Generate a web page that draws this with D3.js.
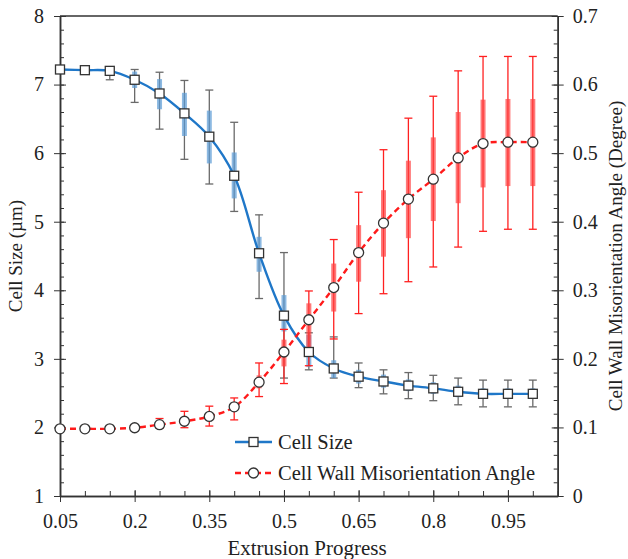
<!DOCTYPE html>
<html lang="en">
<head>
<meta charset="utf-8">
<title>Cell Size and Misorientation vs Extrusion Progress</title>
<script src="https://d3js.org/d3.v7.js"></script>
<style>
  body { margin: 0; background: #fff; }
  svg text { font-family: "Liberation Serif", "Times New Roman", serif !important; fill: #222; }
  .axis path, .axis line { stroke: #333; }
</style>
</head>
<body>
<script>
// data
const progress = [0.05,0.1,0.15,0.2,0.25,0.3,0.35,0.4,0.45,0.5,0.55,0.6,0.65,0.7,0.75,0.8,0.85,0.9,0.95,1.0];

const cellSize   = [7.22,7.21,7.20,7.07,6.87,6.58,6.24,5.67,4.54,3.63,3.10,2.86,2.74,2.67,2.61,2.57,2.52,2.49,2.49,2.49];
const cellSizeLo = [null,null,7.07,6.74,6.35,5.91,5.55,5.15,3.88,2.72,2.84,2.72,2.58,2.49,2.42,2.39,2.33,2.30,2.30,2.30];
const cellSizeHi = [null,null,7.26,7.22,7.18,7.06,6.92,6.45,5.10,4.55,3.38,3.32,2.94,2.84,2.80,2.76,2.72,2.69,2.69,2.69];
const cellBoxLo  = [null,null,null,6.95,6.64,6.25,5.85,5.34,4.27,3.40,2.88,2.72,2.64,2.58,2.53,2.49,2.44,2.42,2.42,2.42];
const cellBoxHi  = [null,null,null,7.19,7.08,6.88,6.62,6.01,4.78,3.93,3.35,2.98,2.84,2.77,2.70,2.66,2.61,2.57,2.57,2.57];

const angle    = [0.098,0.098,0.098,0.0995,0.104,0.109,0.116,0.130,0.166,0.210,0.257,0.304,0.355,0.398,0.433,0.462,0.493,0.514,0.516,0.516];
const angleLo  = [null,null,null,0.096,0.099,0.0996,0.102,0.111,0.145,0.164,0.190,0.229,0.266,0.295,0.3125,0.334,0.363,0.386,0.389,0.389];
const angleHi  = [null,null,null,0.104,0.113,0.1235,0.131,0.143,0.194,0.243,0.299,0.374,0.443,0.505,0.551,0.583,0.620,0.641,0.641,0.641];
const angleBoxLo = [null,null,null,null,null,null,null,0.124,0.157,0.189,0.213,0.269,0.3125,0.349,0.376,0.401,0.427,0.450,0.452,0.452];
const angleBoxHi = [null,null,null,null,null,null,null,0.137,0.176,0.228,0.281,0.339,0.395,0.446,0.489,0.523,0.560,0.578,0.579,0.579];

const xMajor = [0.05,0.2,0.35,0.5,0.65,0.8,0.95];
const xMinor = d3.range(0.05, 1.051, 0.05);
const yLeftMajor = [1,2,3,4,5,6,7,8];
const yRightMajor = [0,0.1,0.2,0.3,0.4,0.5,0.6,0.7];

const w = 628, h = 559;
const margin = {top: 16, right: 70.3, bottom: 63, left: 60};

const svg = d3.select("body").append("svg")
    .attr("width", w)
    .attr("height", h);

const x = d3.scaleLinear().domain([0.05, 1.05]).range([margin.left, w - margin.right]);
const yL = d3.scaleLinear().domain([1, 8]).range([h - margin.bottom, margin.top]);
const yR = d3.scaleLinear().domain([0, 0.7]).range([h - margin.bottom, margin.top]);

const bottom = h - margin.bottom;
const fsTick = 20;

// axes: minor ticks point inward, major ticks cross the axis line
svg.append("g").attr("class", "axis")
    .attr("transform", `translate(0,${bottom})`)
    .call(d3.axisBottom(x).tickValues(xMinor).tickSize(-5).tickSizeOuter(0).tickFormat(""));
svg.append("g").attr("class", "axis")
    .attr("transform", `translate(0,${bottom})`)
    .call(d3.axisBottom(x).tickValues(xMajor).tickSize(6).tickSizeOuter(0).tickFormat(d3.format("")))
    .call(g => g.selectAll("line").attr("y1", -6))
    .call(g => g.selectAll("text").style("font-size", fsTick + "px").attr("dy", "1.15em"));

svg.append("g").attr("class", "axis")
    .attr("transform", `translate(${margin.left},0)`)
    .call(d3.axisLeft(yL).tickValues(d3.range(1, 8.01, 0.2)).tickSize(-4).tickSizeOuter(0).tickFormat(""));
svg.append("g").attr("class", "axis")
    .attr("transform", `translate(${margin.left},0)`)
    .call(d3.axisLeft(yL).tickValues(yLeftMajor).tickSize(6).tickSizeOuter(0).tickFormat(d3.format("d")))
    .call(g => g.selectAll("line").attr("x1", 6))
    .call(g => g.selectAll("text").style("font-size", fsTick + "px").attr("x", -16));

const xr = w - margin.right;
svg.append("g").attr("class", "axis")
    .attr("transform", `translate(${xr},0)`)
    .call(d3.axisRight(yR).tickValues(d3.range(0, 0.701, 0.02)).tickSize(-4).tickSizeOuter(0).tickFormat(""));
svg.append("g").attr("class", "axis")
    .attr("transform", `translate(${xr},0)`)
    .call(d3.axisRight(yR).tickValues(yRightMajor).tickSize(6).tickSizeOuter(0).tickFormat(d3.format("")))
    .call(g => g.selectAll("line").attr("x1", -6))
    .call(g => g.selectAll("text").style("font-size", fsTick + "px").attr("x", 15));

svg.selectAll(".axis path").attr("stroke-width", 1.5);

// top frame
svg.append("line")
    .attr("x1", margin.left).attr("x2", xr)
    .attr("y1", margin.top).attr("y2", margin.top)
    .attr("stroke", "#333").attr("stroke-width", 1.5);

// axis titles
svg.append("text")
    .attr("text-anchor", "middle")
    .attr("transform", `translate(22,${(margin.top + bottom) / 2}) rotate(-90)`)
    .style("font-size", "19px")
    .text("Cell Size (\u00b5m)");

svg.append("text")
    .attr("text-anchor", "middle")
    .attr("transform", `translate(622,${(margin.top + bottom) / 2}) rotate(-90)`)
    .style("font-size", "19px")
    .text("Cell Wall Misorientation Angle (Degree)");

svg.append("text")
    .attr("text-anchor", "middle")
    .attr("x", 307).attr("y", 555)
    .style("font-size", "21px")
    .text("Extrusion Progress");

const idx = d3.range(progress.length);

// error bars
const capW = 4;
function whiskers(lo, hi, ys, color, cls) {
  const g = svg.append("g").attr("class", cls);
  const ok = idx.filter(i => lo[i] != null);
  g.selectAll("line.v").data(ok).join("line").attr("class", "v")
      .attr("x1", i => x(progress[i])).attr("x2", i => x(progress[i]))
      .attr("y1", i => ys(lo[i])).attr("y2", i => ys(hi[i]))
      .attr("stroke", color).attr("stroke-width", 1.3);
  g.selectAll("line.lo").data(ok).join("line").attr("class", "lo")
      .attr("x1", i => x(progress[i]) - capW).attr("x2", i => x(progress[i]) + capW)
      .attr("y1", i => ys(lo[i])).attr("y2", i => ys(lo[i]))
      .attr("stroke", color).attr("stroke-width", 1.3);
  g.selectAll("line.hi").data(ok).join("line").attr("class", "hi")
      .attr("x1", i => x(progress[i]) - capW).attr("x2", i => x(progress[i]) + capW)
      .attr("y1", i => ys(hi[i])).attr("y2", i => ys(hi[i]))
      .attr("stroke", color).attr("stroke-width", 1.3);
}
function boxes(lo, hi, ys, color, cls) {
  const ok = idx.filter(i => lo[i] != null);
  svg.append("g").attr("class", cls)
    .selectAll("rect").data(ok).join("rect")
      .attr("x", i => x(progress[i]) - 2.5)
      .attr("width", 5)
      .attr("y", i => ys(hi[i]))
      .attr("height", i => ys(lo[i]) - ys(hi[i]))
      .attr("fill", color).attr("opacity", 0.7);
}

whiskers(cellSizeLo, cellSizeHi, yL, "#6a6a6a", "cellWhisk");
boxes(cellBoxLo, cellBoxHi, yL, "#5b9bd5", "cellBox");
whiskers(angleLo, angleHi, yR, "#ff2020", "angWhisk");
boxes(angleBoxLo, angleBoxHi, yR, "#ff4040", "angBox");

// lines
const lineL = d3.line().x(i => x(progress[i])).y(i => yL(cellSize[i])).curve(d3.curveCatmullRom);
const lineR = d3.line().x(i => x(progress[i])).y(i => yR(angle[i])).curve(d3.curveCatmullRom);

svg.append("path").datum(idx).attr("d", lineL)
    .attr("fill", "none").attr("stroke", "#1f77c8").attr("stroke-width", 2.4);
svg.append("path").datum(idx).attr("d", lineR)
    .attr("fill", "none").attr("stroke", "#ff1a1a").attr("stroke-width", 2.4)
    .attr("stroke-dasharray", "6,4");

// markers
svg.append("g").selectAll("rect").data(idx).join("rect")
    .attr("x", i => x(progress[i]) - 4.5).attr("y", i => yL(cellSize[i]) - 4.5)
    .attr("width", 9).attr("height", 9)
    .attr("fill", "#fff").attr("stroke", "#333").attr("stroke-width", 1.3);
svg.append("g").selectAll("circle").data(idx).join("circle")
    .attr("cx", i => x(progress[i])).attr("cy", i => yR(angle[i]))
    .attr("r", 5)
    .attr("fill", "#fff").attr("stroke", "#333").attr("stroke-width", 1.3);

// legend
const leg = svg.append("g");
leg.append("line").attr("x1", 235).attr("x2", 272).attr("y1", 442).attr("y2", 442)
    .attr("stroke", "#1f77c8").attr("stroke-width", 2.4);
leg.append("rect").attr("x", 249).attr("y", 437.5).attr("width", 9).attr("height", 9)
    .attr("fill", "#fff").attr("stroke", "#333").attr("stroke-width", 1.3);
leg.append("text").attr("x", 278).attr("y", 449).style("font-size", "20.5px").text("Cell Size");

leg.append("line").attr("x1", 235).attr("x2", 272).attr("y1", 473).attr("y2", 473)
    .attr("stroke", "#ff1a1a").attr("stroke-width", 2.4).attr("stroke-dasharray", "6,4");
leg.append("circle").attr("cx", 253.5).attr("cy", 473).attr("r", 5)
    .attr("fill", "#fff").attr("stroke", "#333").attr("stroke-width", 1.3);
leg.append("text").attr("x", 278).attr("y", 480).style("font-size", "20.5px").text("Cell Wall Misorientation Angle");
</script>
</body>
</html>
